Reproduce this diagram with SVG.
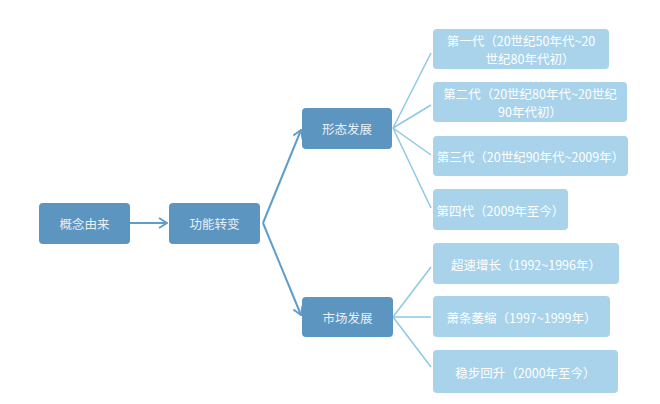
<svg xmlns="http://www.w3.org/2000/svg" width="660" height="404" viewBox="0 0 660 404">
<defs>
<style>
.dark{fill:#5b95c0;}
.light{fill:#a8d3eb;}
.t{font-family:"Noto Sans CJK SC","Noto Sans",sans-serif;font-size:12.5px;fill:#ffffff;text-anchor:middle;dominant-baseline:central;}
.td{fill:#e9f0f5;}
.main{stroke:#5f9dcb;stroke-width:2;fill:none;}
.sub{stroke:#8ec8e4;stroke-width:1.5;fill:none;}
</style>
<marker id="chev" viewBox="0 0 10 12" refX="9" refY="6" markerWidth="10" markerHeight="12" markerUnits="userSpaceOnUse" orient="auto">
<path d="M1,1 L9,6 L1,11" fill="none" stroke="#5f9dcb" stroke-width="2"/>
</marker>
</defs>
<rect width="660" height="404" fill="#ffffff"/>
<g id="connectors">
<line class="main" x1="130" y1="223" x2="167" y2="223" marker-end="url(#chev)"/>
<line class="main" x1="263" y1="223" x2="301" y2="130" marker-end="url(#chev)"/>
<line class="main" x1="263" y1="223" x2="301" y2="315" marker-end="url(#chev)"/>
<line class="sub" x1="393" y1="128" x2="431" y2="53"/>
<line class="sub" x1="393" y1="128" x2="431" y2="105"/>
<line class="sub" x1="393" y1="128" x2="431" y2="155"/>
<line class="sub" x1="393" y1="128" x2="431" y2="208"/>
<line class="sub" x1="393" y1="317" x2="431" y2="267"/>
<line class="sub" x1="393" y1="317" x2="431" y2="317"/>
<line class="sub" x1="393" y1="317" x2="431" y2="367"/>
</g>
<g id="n1"><rect class="dark" x="39" y="203" width="91" height="41" rx="4"/><text class="t td" x="84.5" y="223.5">概念由来</text></g>
<g id="n2"><rect class="dark" x="169" y="203" width="91" height="41" rx="4"/><text class="t td" x="214.5" y="223.5">功能转变</text></g>
<g id="n3"><rect class="dark" x="302" y="108" width="90" height="41" rx="4"/><text class="t td" x="347" y="128.5">形态发展</text></g>
<g id="n4"><rect class="dark" x="302" y="297" width="91" height="40" rx="4"/><text class="t td" x="347.5" y="317">市场发展</text></g>
<g id="g1"><rect class="light" x="433" y="29" width="176" height="40" rx="4"/><text class="t" x="521" y="40.5">第一代（20世纪50年代~20</text><text class="t" x="530" y="58.5">世纪80年代初）</text></g>
<g id="g2"><rect class="light" x="433" y="82" width="194" height="40" rx="4"/><text class="t" x="530" y="93.5">第二代（20世纪80年代~20世纪</text><text class="t" x="530" y="111.5">90年代初）</text></g>
<g id="g3"><rect class="light" x="433" y="136" width="195" height="40" rx="4"/><text class="t" x="530.5" y="156">第三代（20世纪90年代~2009年）</text></g>
<g id="g4"><rect class="light" x="433" y="189" width="135" height="41" rx="4"/><text class="t" x="500.5" y="210">第四代（2009年至今）</text></g>
<g id="m1"><rect class="light" x="433" y="243" width="186" height="41" rx="4"/><text class="t" x="526" y="264">超速增长（1992~1996年）</text></g>
<g id="m2"><rect class="light" x="433" y="296" width="177" height="41" rx="4"/><text class="t" x="521.5" y="317">萧条萎缩（1997~1999年）</text></g>
<g id="m3"><rect class="light" x="433" y="350" width="185" height="43" rx="4"/><text class="t" x="525.5" y="372">稳步回升（2000年至今）</text></g>
</svg>
